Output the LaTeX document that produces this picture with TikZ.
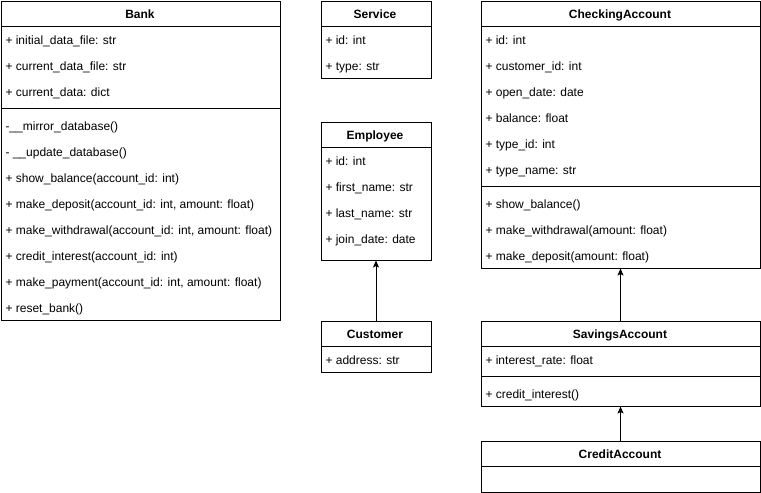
\documentclass[tikz,border=0pt]{standalone}
\usepackage{fontspec}
\setmainfont{Liberation Sans}
\usetikzlibrary{arrows.meta}

\tikzset{
  classbox/.style={draw, line width=1pt, anchor=north west, inner sep=0pt},
  classname/.style={font=\fontsize{12}{14}\selectfont\bfseries, anchor=base, inner sep=0pt},
  member/.style={anchor=base west, inner sep=0pt},
}

\begin{document}
\begin{tikzpicture}[x=1pt,y=-1pt,line width=1pt,>={Stealth[length=7pt,width=6pt,inset=1.5pt]},font=\fontsize{12}{14}\selectfont]
        \useasboundingbox (0,0) rectangle (761,493);
        % Bank
        \node[classbox, minimum width=279pt, minimum height=319pt] (bank) at (0.5,0.5) {};
        \node[classname] (bankname) at (140,18) {Bank};
        \draw (0.5,26) -- (279.5,26);
        \node[member] (bank1) at (5,44) {+ initial\_data\_file: str};
        \node[member] (bank2) at (5,70) {+ current\_data\_file: str};
        \node[member] (bank3) at (5,96) {+ current\_data: dict};
        \draw (0.5,108) -- (279.5,108);
        \node[member] (bank4) at (5,130) {-\_\_mirror\_database()};
        \node[member] (bank5) at (5,156) {- \_\_update\_database()};
        \node[member] (bank6) at (5,182) {+ show\_balance(account\_id: int)};
        \node[member] (bank7) at (5,208) {+ make\_deposit(account\_id: int, amount: float)};
        \node[member] (bank8) at (5,234) {+ make\_withdrawal(account\_id: int, amount: float)};
        \node[member] (bank9) at (5,260) {+ credit\_interest(account\_id: int)};
        \node[member] (bank10) at (5,286) {+ make\_payment(account\_id: int, amount: float)};
        \node[member] (bank11) at (5,312) {+ reset\_bank()};
        % Service
        \node[classbox, minimum width=110pt, minimum height=77pt] (service) at (320.5,0.5) {};
        \node[classname] (servicename) at (375,18) {Service};
        \draw (320.5,26) -- (430.5,26);
        \node[member] (service1) at (325,44) {+ id: int};
        \node[member] (service2) at (325,70) {+ type: str};
        % Employee
        \node[classbox, minimum width=110pt, minimum height=138pt] (employee) at (320.5,121.5) {};
        \node[classname] (employeename) at (375,139) {Employee};
        \draw (320.5,147) -- (430.5,147);
        \node[member] (employee1) at (325,165) {+ id: int};
        \node[member] (employee2) at (325,191) {+ first\_name: str};
        \node[member] (employee3) at (325,217) {+ last\_name: str};
        \node[member] (employee4) at (325,243) {+ join\_date: date};
        % Customer
        \node[classbox, minimum width=110pt, minimum height=51pt] (customer) at (320.5,320.5) {};
        \node[classname] (customername) at (375,338) {Customer};
        \draw (320.5,346) -- (430.5,346);
        \node[member] (customer1) at (325,364) {+ address: str};
        \draw[->] (customer.north) -- (employee.south);
        % CheckingAccount
        \node[classbox, minimum width=279pt, minimum height=267pt] (checking) at (480.5,0.5) {};
        \node[classname] (checkingname) at (620,18) {CheckingAccount};
        \draw (480.5,26) -- (759.5,26);
        \node[member] (checking1) at (485,44) {+ id: int};
        \node[member] (checking2) at (485,70) {+ customer\_id: int};
        \node[member] (checking3) at (485,96) {+ open\_date: date};
        \node[member] (checking4) at (485,122) {+ balance: float};
        \node[member] (checking5) at (485,148) {+ type\_id: int};
        \node[member] (checking6) at (485,174) {+ type\_name: str};
        \draw (480.5,186) -- (759.5,186);
        \node[member] (checking7) at (485,208) {+ show\_balance()};
        \node[member] (checking8) at (485,234) {+ make\_withdrawal(amount: float)};
        \node[member] (checking9) at (485,260) {+ make\_deposit(amount: float)};
        % SavingsAccount
        \node[classbox, minimum width=279pt, minimum height=85pt] (savings) at (480.5,320.5) {};
        \node[classname] (savingsname) at (620,338) {SavingsAccount};
        \draw (480.5,346) -- (759.5,346);
        \node[member] (savings1) at (485,364) {+ interest\_rate: float};
        \draw (480.5,376) -- (759.5,376);
        \node[member] (savings2) at (485,398) {+ credit\_interest()};
        \draw[->] (savings.north) -- (checking.south);
        % CreditAccount
        \node[classbox, minimum width=279pt, minimum height=51pt] (credit) at (480.5,440.5) {};
        \node[classname] (creditname) at (620,458) {CreditAccount};
        \draw (480.5,466) -- (759.5,466);
        \draw[->] (credit.north) -- (savings.south);
\end{tikzpicture}
\end{document}
